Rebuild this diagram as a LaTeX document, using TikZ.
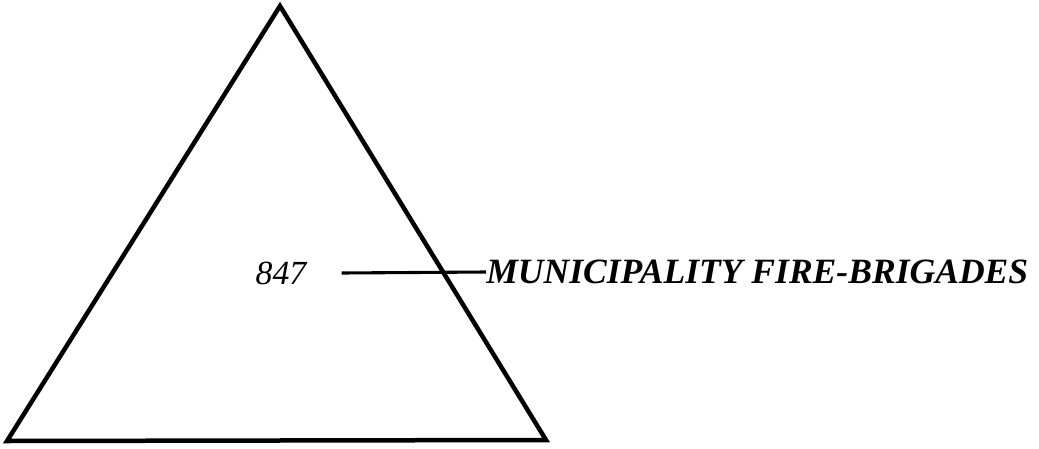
\documentclass[tikz,border=0pt]{standalone}
\usepackage{fontspec}
\setmainfont{Liberation Serif}
\usetikzlibrary{positioning, calc}
\tikzset{
  borde/.style={line width=3.2pt, line join=miter, color=black},
  cifra/.style={font=\fontsize{24}{28}\selectfont\itshape, inner sep=0pt},
  rotulo/.style={font=\fontsize{25.3}{28}\selectfont\itshape\bfseries, inner sep=0pt, anchor=west},
  guia/.style={line width=2.2pt, color=black}
}
\begin{document}
\begin{tikzpicture}[x=0.025cm, y=-0.025cm]
  \useasboundingbox (0,0) rectangle (1039,448);
  \coordinate (cima) at (280,6);
  \coordinate (izq) at (7,441);
  \coordinate (der) at (546,440);
  \draw [borde] (cima) -- (der) -- (izq) -- cycle;
  \node (num) [cifra] at (281,273) {847};
  \node (mun) [rotulo] at (486,272) {MUNICIPALITY FIRE-BRIGADES};
  \draw [guia] ($(num.east)+(35,0)$) -- (mun.west);
\end{tikzpicture}
\end{document}
